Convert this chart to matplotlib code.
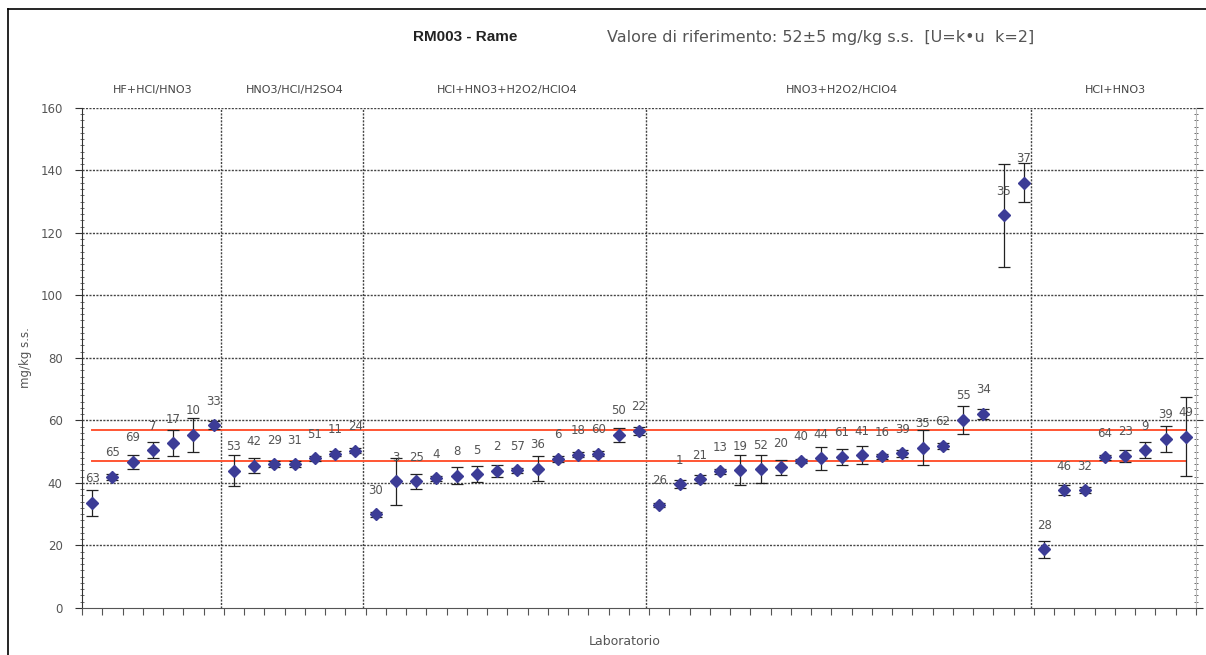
import matplotlib
matplotlib.use("Agg")
import matplotlib.pyplot as plt
from matplotlib.lines import Line2D
from matplotlib.ticker import MultipleLocator
import numpy as np

plt.rcParams['font.family'] = ['Liberation Sans', 'DejaVu Sans']

# Digestion method groups
group_names = ["HF+HCl/HNO3", "HNO3/HCl/H2SO4", "HCl+HNO3+H2O2/HClO4",
               "HNO3+H2O2/HClO4", "HCl+HNO3"]

# Laboratory codes, results (mg/kg s.s.) and expanded uncertainties per group
labs_g1 = ["63", "65", "69", "7", "17", "10", "33"]
vals_g1 = [33.7, 42.0, 46.8, 50.5, 52.7, 55.4, 58.5]
errs_g1 = [4.2, 1.0, 2.3, 2.5, 4.1, 5.5, 1.2]

labs_g2 = ["53", "42", "29", "31", "51", "11", "24"]
vals_g2 = [43.9, 45.5, 46.0, 46.0, 47.9, 49.3, 50.3]
errs_g2 = [5.0, 2.4, 1.0, 1.0, 0.8, 0.8, 0.8]

labs_g3 = ["30", "3", "25", "4", "8", "5", "2", "57", "36", "6", "18", "60", "50", "22"]
vals_g3 = [30.0, 40.5, 40.5, 41.5, 42.3, 42.8, 43.9, 44.1, 44.6, 47.7, 49.0, 49.3, 55.4, 56.7]
errs_g3 = [0.8, 7.4, 2.5, 0.8, 2.7, 2.5, 2.0, 0.8, 4.0, 1.0, 0.8, 0.8, 2.3, 1.2]

labs_g4 = ["26", "1", "21", "13", "19", "52", "20", "40", "44", "61", "41", "16", "39",
           "35", "62", "55", "34", "35", "37"]
vals_g4 = [33.0, 39.6, 41.2, 43.7, 44.1, 44.4, 45.0, 47.1, 47.9, 48.4, 48.9, 48.5, 49.5,
           51.2, 51.9, 60.2, 62.1, 125.6, 136.1]
errs_g4 = [0.6, 1.2, 1.2, 0.8, 4.7, 4.4, 2.3, 0.6, 3.6, 2.5, 2.8, 0.8, 1.2,
           5.6, 1.0, 4.4, 1.5, 16.5, 6.2]

labs_g5 = ["28", "46", "32", "64", "23", "9", "39", "49"]
vals_g5 = [18.8, 37.7, 37.7, 48.2, 48.7, 50.5, 54.1, 54.8]
errs_g5 = [2.7, 1.5, 1.0, 0.8, 2.0, 2.5, 4.1, 12.6]

# Reference value and uncertainty
ref_value = 52
ref_unc = 5

labs = labs_g1 + labs_g2 + labs_g3 + labs_g4 + labs_g5
vals = np.array(vals_g1 + vals_g2 + vals_g3 + vals_g4 + vals_g5)
errs = np.array(errs_g1 + errs_g2 + errs_g3 + errs_g4 + errs_g5)
sizes = [len(labs_g1), len(labs_g2), len(labs_g3), len(labs_g4), len(labs_g5)]
n = len(labs)
x = np.arange(n) + 0.5

wide = ['DejaVu Sans']

fig = plt.figure(figsize=(12.06, 6.55), dpi=100)
ax = fig.add_axes([0.068, 0.0718, 0.9237, 0.7634])

grid_kw = dict(color="#444444", lw=1.0, ls=(0, (1.5, 1)))

# horizontal grid
for yv in range(20, 161, 20):
    ax.axhline(yv, zorder=1, **grid_kw)

# group dividers and group names
bounds = np.cumsum([0] + sizes)
for b in bounds[1:-1]:
    ax.axvline(b - 0.15, zorder=1, **grid_kw)
for name, a, b in zip(group_names, bounds[:-1], bounds[1:]):
    ax.text((a + b) / 2, 1.035, name, transform=ax.get_xaxis_transform(),
            ha="center", va="center", fontsize=8, color="#444444", family=wide)

# reference band limits
ax.plot([x[0], x[-1]], [ref_value + ref_unc] * 2, color="#ff5533", lw=1.4, zorder=2)
ax.plot([x[0], x[-1]], [ref_value - ref_unc] * 2, color="#ff5533", lw=1.4, zorder=2)

# results with error bars
ax.errorbar(x, vals, yerr=errs, fmt="D", color="#3c3c96", ms=6,
            ecolor="#222222", elinewidth=0.9, capsize=4, capthick=0.9, zorder=3)

for xi, v, lab in zip(x, vals, labs):
    ax.text(xi, v + 7.7, lab, ha="center", va="center", fontsize=8.5,
            color="#555555", zorder=4, family=wide)

ax.set_xlim(0, n)
ax.set_ylim(0, 160)
ax.set_xticks(np.arange(0, n + 1))
ax.set_xticklabels([])
ax.yaxis.set_major_locator(MultipleLocator(20))
ax.yaxis.set_minor_locator(MultipleLocator(2))
ax.tick_params(axis="x", length=5, direction="out", color="#555555")
ax.tick_params(axis="y", which="major", length=5, direction="out", labelsize=8.5,
               labelcolor="#555555", color="#333333", right=True, pad=9)
ax.tick_params(axis="y", which="minor", length=3, direction="inout", color="#555555", right=True)
for t in ax.get_yticklabels():
    t.set_family(wide)

ax.spines["top"].set_visible(False)
ax.spines["left"].set_color("#333333")
ax.spines["bottom"].set_color("#555555")
ax.spines["bottom"].set_linestyle((0, (1.5, 1)))
ax.spines["right"].set_color("#bbbbbb")

ax.set_ylabel("mg/kg s.s.", fontsize=8.5, color="#555555", family=wide)
ax.yaxis.set_label_coords(-0.045, 0.5)
ax.set_xlabel("Laboratorio", fontsize=9, color="#555555", family=wide)
ax.xaxis.set_label_coords(0.487, -0.055)

fig.text(0.386, 0.943, "RM003 - Rame", ha="center", va="center",
         fontsize=11, fontweight="bold", color="#222222")
fig.text(0.503, 0.943, "Valore di riferimento: 52±5 mg/kg s.s.  [U=k•u  k=2]",
         ha="left", va="center", fontsize=11.5, color="#555555", family=wide)

# outer frame
fig.add_artist(Line2D([8 / 1206, 8 / 1206], [0, 1 - 9 / 655], transform=fig.transFigure,
                      color="black", lw=1.2))
fig.add_artist(Line2D([8 / 1206, 1], [1 - 9 / 655, 1 - 9 / 655], transform=fig.transFigure,
                      color="black", lw=1.2))

fig.savefig("out.png", dpi=100)
